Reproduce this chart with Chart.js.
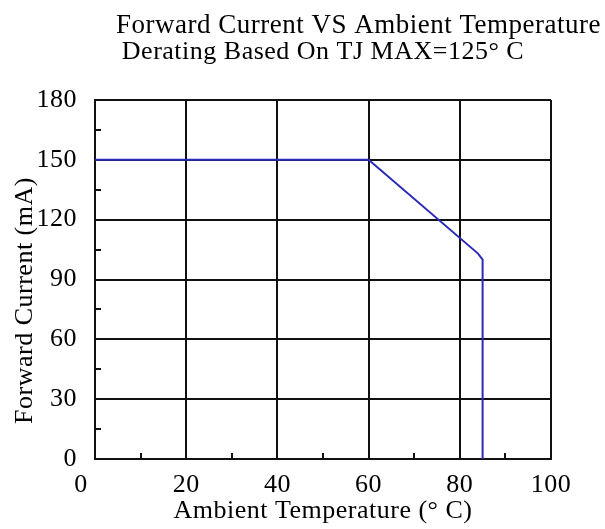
<!DOCTYPE html>
<html>
<head>
<meta charset="utf-8">
<script src="https://cdn.jsdelivr.net/npm/chart.js@4"></script>
<style>
  html, body { margin: 0; padding: 0; background: #fff; }
  canvas { display: block; }
</style>
</head>
<body>
<canvas id="deratingChart" width="605" height="529"></canvas>
<script>
// derating curve
const tempC = [0, 60, 84, 85, 85];
const currentMA = [150, 150, 103, 100, 0];

const xMajor = [0, 20, 40, 60, 80, 100];
const xMinor = [10, 30, 50, 70, 90];
const yMajor = [0, 30, 60, 90, 120, 150, 180];
const yMinor = [15, 45, 75, 105, 135, 165];

const serif = 'Liberation Serif';
const ink = '#111';

function setTicks(major, minor) {
  return function (scale) {
    scale.ticks = major.concat(minor).sort((a, b) => a - b).map(v => ({ value: v }));
  };
}

// datasheet text is a bit spread out
const spacing = {
  id: 'spacing',
  beforeUpdate(chart) { chart.ctx.letterSpacing = '0.5px'; },
  beforeDraw(chart) { chart.ctx.letterSpacing = '0.5px'; }
};

const ctx = document.getElementById('deratingChart');

new Chart(ctx, {
  type: 'line',
  data: {
    datasets: [{
      data: tempC.map((t, i) => ({ x: t, y: currentMA[i] })),
      borderColor: '#2b2bb8',
      borderWidth: 2,
      pointRadius: 0,
      fill: false,
      tension: 0
    }]
  },
  options: {
    responsive: false,
    animation: false,
    layout: { padding: { left: 0, right: 4, top: 0, bottom: 0 } },
    plugins: {
      legend: { display: false },
      tooltip: { enabled: false },
      title: {
        display: true,
        text: 'Forward Current VS Ambient Temperature',
        align: 'end',
        color: '#000',
        font: { family: serif, size: 27, weight: 'normal', lineHeight: 1 },
        padding: { top: 12, bottom: 0 }
      },
      subtitle: {
        display: true,
        text: 'Derating Based On TJ MAX=125° C',
        fullSize: false,
        color: '#000',
        font: { family: serif, size: 26, weight: 'normal', lineHeight: 1 },
        padding: { top: 0, bottom: 35 }
      }
    },
    scales: {
      x: {
        type: 'linear',
        min: 0,
        max: 100,
        afterBuildTicks: setTicks(xMajor, xMinor),
        afterFit(scale) {
          scale.height = 70;
          scale.paddingRight = 54;
        },
        grid: {
          color: c => xMajor.includes(c.tick.value) ? ink : 'rgba(0,0,0,0)',
          lineWidth: 2,
          tickColor: ink,
          tickWidth: 2,
          tickLength: -6
        },
        border: { color: ink, width: 2 },
        ticks: {
          padding: 17,
          maxRotation: 0,
          autoSkip: false,
          color: '#000',
          font: { family: serif, size: 26 },
          callback: v => !xMajor.includes(v) ? '' : (v === 0 ? '0    ' : String(v))
        },
        title: {
          display: true,
          text: 'Ambient Temperature (° C)',
          color: '#000',
          font: { family: serif, size: 26 },
          padding: { top: 0, bottom: 2 }
        }
      },
      y: {
        min: 0,
        max: 180,
        afterBuildTicks: setTicks(yMajor, yMinor),
        afterFit(scale) {
          scale.width = 95;
        },
        grid: {
          color: c => yMajor.includes(c.tick.value) ? ink : 'rgba(0,0,0,0)',
          lineWidth: 2,
          tickColor: ink,
          tickWidth: 2,
          tickLength: -6
        },
        border: { color: ink, width: 2 },
        ticks: {
          padding: 24,
          autoSkip: false,
          color: '#000',
          font: { family: serif, size: 26 },
          callback: v => yMajor.includes(v) ? String(v) : ''
        },
        title: {
          display: true,
          text: 'Forward Current (mA)      ',
          color: '#000',
          font: { family: serif, size: 26 },
          padding: { top: 10, bottom: 0 }
        }
      }
    }
  },
  plugins: [spacing]
});
</script>
</body>
</html>
